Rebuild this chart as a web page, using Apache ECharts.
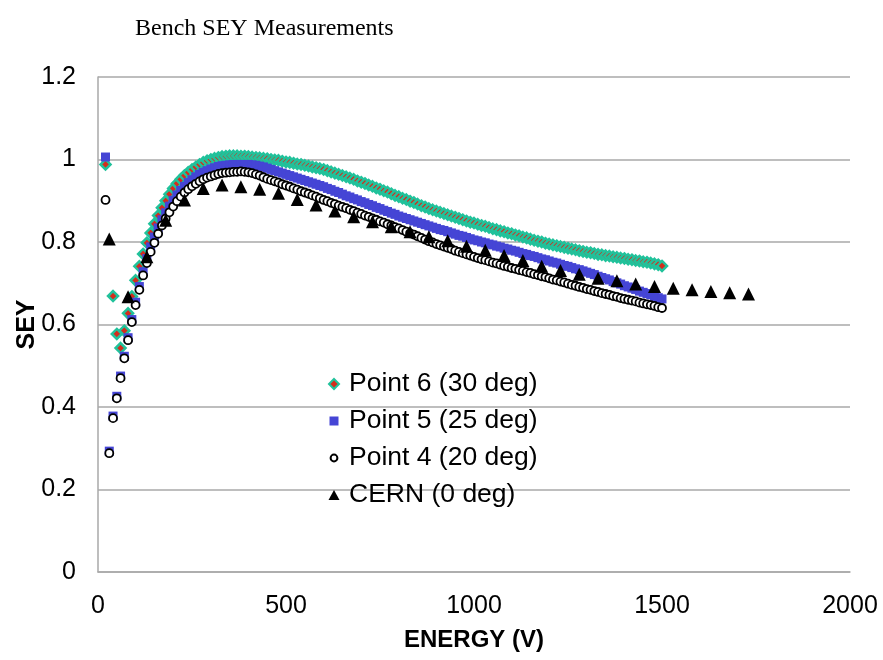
<!DOCTYPE html>
<html>
<head>
<meta charset="utf-8">
<title>Bench SEY Measurements</title>
<script src="https://cdn.jsdelivr.net/npm/echarts@6/dist/echarts.min.js"></script>
<style>
  html, body { margin: 0; padding: 0; background: #fff; }
  #chart { width: 883px; height: 660px; }
</style>
</head>
<body>
<div id="chart"></div>
<script>
// Primary energy (V) for the bench sweeps
const energies = [
  20, 30, 40, 50, 60, 70, 80, 90, 100, 110, 120, 130, 140, 150, 160, 170, 180, 190, 200,
  210, 220, 230, 240, 250, 260, 270, 280, 290, 300, 310, 320, 330, 340, 350, 360, 370, 380, 390, 400,
  410, 420, 430, 440, 450, 460, 470, 480, 490, 500, 510, 520, 530, 540, 550, 560, 570, 580, 590, 600,
  610, 620, 630, 640, 650, 660, 670, 680, 690, 700, 710, 720, 730, 740, 750, 760, 770, 780, 790, 800,
  810, 820, 830, 840, 850, 860, 870, 880, 890, 900, 910, 920, 930, 940, 950, 960, 970, 980, 990, 1000,
  1010, 1020, 1030, 1040, 1050, 1060, 1070, 1080, 1090, 1100, 1110, 1120, 1130, 1140, 1150, 1160, 1170, 1180, 1190, 1200,
  1210, 1220, 1230, 1240, 1250, 1260, 1270, 1280, 1290, 1300, 1310, 1320, 1330, 1340, 1350, 1360, 1370, 1380, 1390, 1400,
  1410, 1420, 1430, 1440, 1450, 1460, 1470, 1480, 1490, 1500
];

// Point 6 (30 deg) - no reading at 30 V
const point6 = [
  0.988, null, 0.669, 0.577, 0.543, 0.585, 0.627, 0.668, 0.707, 0.741, 0.771, 0.798, 0.822, 0.844, 0.864, 0.883, 0.900, 0.916, 0.930,
  0.942, 0.952, 0.961, 0.969, 0.976, 0.982, 0.988, 0.993, 0.997, 1.000, 1.003, 1.005, 1.007, 1.008, 1.009, 1.009, 1.009, 1.008, 1.008, 1.007,
  1.006, 1.005, 1.004, 1.003, 1.002, 1.000, 0.999, 0.998, 0.996, 0.994, 0.993, 0.991, 0.989, 0.988, 0.986, 0.984, 0.982, 0.980, 0.978, 0.976,
  0.973, 0.970, 0.967, 0.964, 0.961, 0.958, 0.955, 0.952, 0.948, 0.945, 0.942, 0.938, 0.935, 0.931, 0.928, 0.924, 0.921, 0.917, 0.913, 0.910,
  0.906, 0.903, 0.899, 0.896, 0.892, 0.888, 0.885, 0.881, 0.878, 0.875, 0.872, 0.869, 0.866, 0.863, 0.860, 0.857, 0.854, 0.851, 0.848, 0.846,
  0.843, 0.840, 0.838, 0.835, 0.832, 0.830, 0.827, 0.825, 0.822, 0.820, 0.817, 0.815, 0.812, 0.810, 0.807, 0.804, 0.802, 0.800, 0.797, 0.795,
  0.793, 0.791, 0.789, 0.787, 0.785, 0.783, 0.781, 0.779, 0.777, 0.775, 0.774, 0.772, 0.770, 0.769, 0.767, 0.766, 0.764, 0.763, 0.761, 0.760,
  0.758, 0.757, 0.755, 0.754, 0.752, 0.751, 0.749, 0.747, 0.745, 0.742
];

// Point 5 (25 deg)
const point5 = [
  1.006, 0.293, 0.378, 0.426, 0.475, 0.523, 0.568, 0.612, 0.654, 0.692, 0.728, 0.760, 0.788, 0.812, 0.834, 0.854, 0.871, 0.887, 0.901,
  0.914, 0.925, 0.935, 0.944, 0.951, 0.958, 0.964, 0.969, 0.973, 0.977, 0.980, 0.983, 0.985, 0.986, 0.987, 0.988, 0.988, 0.988, 0.988, 0.988,
  0.987, 0.986, 0.984, 0.982, 0.979, 0.976, 0.973, 0.970, 0.967, 0.964, 0.961, 0.958, 0.955, 0.952, 0.949, 0.946, 0.943, 0.940, 0.937, 0.934,
  0.930, 0.927, 0.923, 0.920, 0.916, 0.912, 0.909, 0.905, 0.902, 0.898, 0.895, 0.891, 0.888, 0.884, 0.881, 0.877, 0.874, 0.870, 0.867, 0.863,
  0.860, 0.857, 0.854, 0.851, 0.848, 0.845, 0.842, 0.839, 0.836, 0.833, 0.830, 0.828, 0.825, 0.822, 0.819, 0.816, 0.814, 0.811, 0.808, 0.805,
  0.803, 0.800, 0.798, 0.795, 0.793, 0.790, 0.788, 0.785, 0.783, 0.780, 0.778, 0.775, 0.772, 0.770, 0.767, 0.765, 0.762, 0.759, 0.757, 0.754,
  0.751, 0.749, 0.746, 0.743, 0.741, 0.738, 0.735, 0.733, 0.730, 0.727, 0.724, 0.721, 0.717, 0.714, 0.711, 0.708, 0.704, 0.701, 0.698, 0.694,
  0.691, 0.688, 0.685, 0.681, 0.678, 0.675, 0.672, 0.668, 0.665, 0.662
];

// Point 4 (20 deg)
const point4 = [
  0.902, 0.288, 0.373, 0.421, 0.470, 0.518, 0.562, 0.606, 0.647, 0.684, 0.719, 0.749, 0.776, 0.798, 0.820, 0.840, 0.857, 0.872, 0.886,
  0.899, 0.910, 0.920, 0.928, 0.935, 0.941, 0.947, 0.952, 0.956, 0.959, 0.962, 0.965, 0.967, 0.968, 0.969, 0.970, 0.970, 0.971, 0.970, 0.969,
  0.967, 0.964, 0.961, 0.957, 0.953, 0.950, 0.947, 0.944, 0.940, 0.937, 0.934, 0.930, 0.927, 0.923, 0.920, 0.917, 0.913, 0.910, 0.906, 0.902,
  0.899, 0.895, 0.892, 0.888, 0.885, 0.882, 0.878, 0.875, 0.871, 0.868, 0.864, 0.861, 0.857, 0.854, 0.850, 0.847, 0.843, 0.840, 0.836, 0.833,
  0.829, 0.825, 0.821, 0.818, 0.814, 0.810, 0.806, 0.802, 0.799, 0.795, 0.792, 0.789, 0.786, 0.783, 0.779, 0.776, 0.773, 0.770, 0.767, 0.764,
  0.761, 0.758, 0.756, 0.753, 0.750, 0.748, 0.745, 0.742, 0.740, 0.737, 0.735, 0.732, 0.730, 0.727, 0.725, 0.722, 0.720, 0.717, 0.715, 0.712,
  0.709, 0.707, 0.704, 0.702, 0.699, 0.696, 0.694, 0.691, 0.689, 0.686, 0.684, 0.681, 0.679, 0.676, 0.674, 0.672, 0.669, 0.667, 0.664, 0.662,
  0.660, 0.658, 0.656, 0.653, 0.651, 0.649, 0.647, 0.645, 0.642, 0.640
];

// CERN reference (0 deg), coarser energy steps
const cernEnergies = [
  30, 80, 130, 180, 230, 280, 330, 380, 430, 480, 530, 580, 630, 680, 730, 780, 830, 880,
  930, 980, 1030, 1080, 1130, 1180, 1230, 1280, 1330, 1380, 1430, 1480, 1530, 1580, 1630, 1680, 1730
];
const cern = [
  0.807, 0.667, 0.764, 0.853, 0.902, 0.930, 0.938, 0.934, 0.928, 0.918, 0.903, 0.890, 0.875, 0.861, 0.849, 0.837, 0.825, 0.813,
  0.803, 0.790, 0.780, 0.767, 0.755, 0.741, 0.731, 0.722, 0.712, 0.706, 0.698, 0.692, 0.688, 0.684, 0.680, 0.677, 0.674
];

const seriesNames = ['Point 6 (30 deg)', 'Point 5 (25 deg)', 'Point 4 (20 deg)', 'CERN (0 deg)'];

// Legend glyphs: the leading moveTo points pin a 14x14 box so each glyph keeps its own size
const legendIcons = [
  'path://M0,0M14,14M7,2L12,7L7,12L2,7Z',
  'path://M0,0M14,14M2.5,2.5L11.5,2.5L11.5,11.5L2.5,11.5Z',
  'path://M0,0M14,14M3.6,7A3.4,3.4,0,1,0,10.4,7A3.4,3.4,0,1,0,3.6,7Z',
  'path://M0,0M14,14M7,2L12.5,12L1.5,12Z'
];

function pairs(xs, ys) {
  const out = [];
  for (let i = 0; i < xs.length; i++) {
    if (ys[i] !== null) out.push([xs[i], ys[i]]);
  }
  return out;
}

const sans = 'Liberation Sans, Arial, sans-serif';
const gridColor = '#a9a9a9';

const chart = echarts.init(document.getElementById('chart'), null, { renderer: 'canvas' });

chart.setOption({
  animation: false,
  backgroundColor: '#ffffff',
  title: {
    text: 'Bench SEY Measurements',
    left: 130,
    top: 12,
    textStyle: {
      fontFamily: 'Liberation Serif, Times New Roman, serif',
      fontSize: 24,
      fontWeight: 'normal',
      color: '#000'
    }
  },
  grid: { left: 98, right: 33, top: 77, bottom: 88, containLabel: false },
  legend: {
    orient: 'vertical',
    left: 321,
    top: 364,
    itemWidth: 14,
    itemHeight: 14,
    itemGap: 7,
    data: seriesNames.map((n, i) => ({ name: n, icon: legendIcons[i] })),
    textStyle: { fontFamily: sans, fontSize: 26.5, color: '#000', lineHeight: 30, padding: [0, 0, 0, 3] }
  },
  xAxis: {
    type: 'value',
    min: 0,
    max: 2000,
    interval: 500,
    name: 'ENERGY (V)',
    nameLocation: 'middle',
    nameGap: 56,
    nameMoveOverlap: false,
    nameTextStyle: { fontFamily: sans, fontSize: 24, fontWeight: 'bold', color: '#000' },
    axisLine: { show: true, lineStyle: { color: gridColor, width: 1.5 } },
    axisTick: { show: false },
    splitLine: { show: false },
    axisLabel: { fontFamily: sans, fontSize: 25, color: '#000', margin: 22, formatter: v => String(v) }
  },
  yAxis: {
    type: 'value',
    min: 0,
    max: 1.2,
    interval: 0.2,
    name: 'SEY',
    nameLocation: 'middle',
    nameGap: 58,
    nameMoveOverlap: false,
    nameTextStyle: { fontFamily: sans, fontSize: 25, fontWeight: 'bold', color: '#000' },
    axisLine: { show: true, lineStyle: { color: gridColor, width: 1.5 } },
    axisTick: { show: false },
    splitLine: { show: true, lineStyle: { color: gridColor, width: 1.5 } },
    axisLabel: { fontFamily: sans, fontSize: 25, color: '#000', margin: 22, formatter: v => String(v) }
  },
  series: [
    {
      name: seriesNames[0],
      type: 'scatter',
      symbol: 'diamond',
      symbolSize: 10,
      itemStyle: { color: '#d42c1c', borderColor: '#21c29b', borderWidth: 2.5, opacity: 1 },
      data: pairs(energies, point6)
    },
    {
      name: seriesNames[1],
      type: 'scatter',
      symbol: 'rect',
      symbolSize: 9,
      itemStyle: { color: '#4545d5', opacity: 1 },
      data: pairs(energies, point5)
    },
    {
      name: seriesNames[2],
      type: 'scatter',
      symbol: 'circle',
      symbolSize: 8,
      itemStyle: { color: '#ffffff', borderColor: '#000000', borderWidth: 1.8, opacity: 1 },
      data: pairs(energies, point4)
    },
    {
      name: seriesNames[3],
      type: 'scatter',
      symbol: 'triangle',
      symbolSize: 13,
      itemStyle: { color: '#000000', opacity: 1 },
      data: pairs(cernEnergies, cern)
    }
  ]
});
</script>
</body>
</html>
